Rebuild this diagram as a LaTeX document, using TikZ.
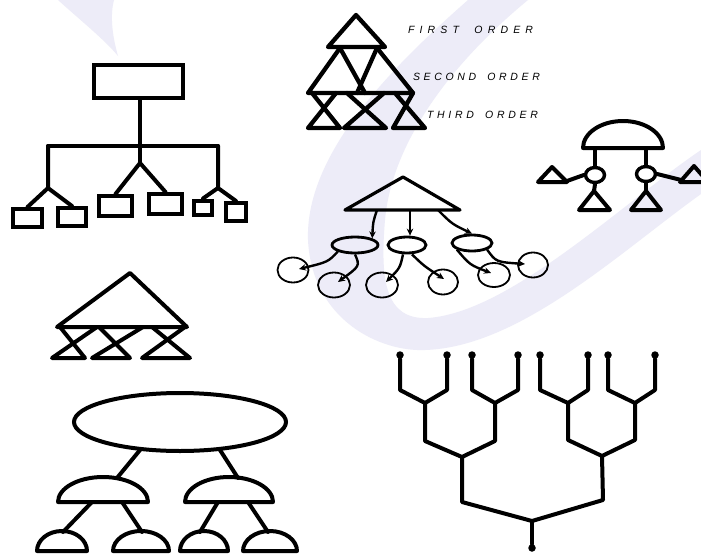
\documentclass[tikz,border=0pt]{standalone}
\usepackage{fontspec}
\setsansfont{Liberation Sans}
\usetikzlibrary{arrows.meta,shapes.geometric,calc}
\definecolor{wm}{RGB}{237,236,248}
\begin{document}
\begin{tikzpicture}[x=1pt,y=-1pt,
  ink/.style={draw=black,line width=4pt,line join=round,line cap=round},
  thick ink/.style={draw=black,line width=4.3pt,line join=round,line cap=round},
  box/.style={draw=black,line width=4pt,rectangle,inner sep=0pt,fill=white},
  oval/.style={draw=black,ellipse,inner sep=0pt},
  arr/.style={draw=black,line width=2.4pt,-{Stealth[length=7pt,width=6.5pt]}},
  lbl/.style={inner sep=0pt,font=\sffamily\itshape\fontsize{10.5}{10.5}\selectfont},
  dot/.style={circle,fill=black,inner sep=0pt,minimum size=7.5pt}]
\useasboundingbox (0,0) rectangle (701,554);
\fill[white] (0,0) rectangle (701,554);
% watermark
\fill[wm] (468,0) .. controls (400,60) and (305,150) .. (308,240) .. controls (312,320) and (380,352) .. (425,350) .. controls (520,347) and (620,252) .. (701,194) -- (701,150) .. controls (620,205) and (510,312) .. (428,318) .. controls (385,320) and (380,280) .. (385,220) .. controls (392,140) and (455,60) .. (528,0) -- cycle;
\fill[wm] (58,0) .. controls (80,20) and (105,40) .. (118,56) .. controls (112,35) and (110,15) .. (114,0) -- cycle;

% ---------- org chart ----------
\node[box,minimum width=89pt,minimum height=33pt] (r0) at (138.5,81.5) {};
\node[box,minimum width=29pt,minimum height=18pt] (b1) at (27.5,218) {};
\node[box,minimum width=28pt,minimum height=18pt] (b2) at (72,217) {};
\node[box,minimum width=33pt,minimum height=20pt] (b3) at (115.5,206) {};
\node[box,minimum width=33pt,minimum height=20pt] (b4) at (165.5,204) {};
\node[box,minimum width=18pt,minimum height=14pt] (b5) at (203,207.5) {};
\node[box,minimum width=20pt,minimum height=18pt] (b6) at (236,212) {};
\coordinate (bl) at (48,146);
\coordinate (br) at (218,146);
\coordinate (jl) at (48,188);
\coordinate (jr) at (218,188);
\coordinate (jm) at (140,163);
\draw[ink] (r0.south -| jm) -- (jm);
\draw[ink] (bl) -- (br);
\draw[ink] (bl) -- (jl) (jl) -- (b1.north) (jl) -- (b2.north);
\draw[ink] (jm) -- (b3.north) (jm) -- (b4.north);
\draw[ink] (br) -- (jr) (jr) -- (b5.north) (jr) -- (b6.north);

% ---------- triangle stack ----------
\draw[thick ink] (356,15) -- (328,47) -- (385,47) -- cycle;
\draw[thick ink] (340,48) -- (308,93) -- (413,93) -- (377,48);
\draw[thick ink] (340,48) -- (365,93);
\draw[thick ink] (377,48) -- (357,93);
\draw[thick ink] (312,93) -- (340,128) -- (308,128) -- (336,93);
\draw[thick ink] (347,93) -- (386,128) -- (344,128) -- (384,93);
\draw[thick ink] (395,93) -- (425,128) -- (393,128) -- (413,93);
\node[lbl] (o1) at (470.5,30) {\hbox to 125pt{F\hfil I\hfil R\hfil S\hfil T\hfil\hfil\hfil O\hfil R\hfil D\hfil E\hfil R}};
\node[lbl] (o2) at (476.5,77) {\hbox to 127pt{S\hfil E\hfil C\hfil O\hfil N\hfil D\hfil\hfil\hfil O\hfil R\hfil D\hfil E\hfil R}};
\node[lbl] (o3) at (482.5,115) {\hbox to 111pt{T\hfil H\hfil I\hfil R\hfil D\hfil\hfil\hfil O\hfil R\hfil D\hfil E\hfil R}};

% ---------- dome figure (right) ----------
\draw[ink] (583,148) arc[start angle=180,end angle=0,x radius=40pt,y radius=27pt] -- cycle;
\node[oval,line width=3.4pt,minimum width=19pt,minimum height=15pt] (cl) at (595,175) {};
\node[oval,line width=3.4pt,minimum width=19pt,minimum height=15pt] (cr) at (646,174) {};
\coordinate (dl) at (595,148);
\coordinate (dr) at (646,148);
\draw[ink] (dl) -- (cl.north);
\draw[ink] (dr) -- (cr.north);
\coordinate (tl) at (594,191);
\coordinate (tr) at (646,191);
\draw[ink] (cl.south) -- (tl);
\draw[ink] (cr.south) -- (tr);
\draw[ink] (tl) -- (579,210) -- (610,210) -- cycle;
\draw[ink] (tr) -- (631,210) -- (661,210) -- cycle;
\coordinate (sl) at (567,181);
\coordinate (sr) at (681,180);
\draw[ink] (cl.west) -- (sl);
\draw[ink] (cr.east) -- (sr);
\draw[ink] (552,167) -- (538,182) -- (567,182) -- cycle;
\draw[ink] (694,166) -- (680,182) -- (708,182) -- cycle;

% ---------- triangle with ellipses and circles ----------
\draw[ink,line width=3.2pt] (403,177) -- (345,210) -- (460,210) -- cycle;
\node[oval,line width=2.8pt,minimum width=46pt,minimum height=16pt] (e1) at (355,245) {};
\node[oval,line width=2.8pt,minimum width=38pt,minimum height=16pt] (e2) at (407,245) {};
\node[oval,line width=2.8pt,minimum width=40pt,minimum height=16pt] (e3) at (472,243) {};
\coordinate (a1) at (377,210);
\coordinate (a2) at (410,210);
\coordinate (a3) at (438,210);
\draw[arr] (a1) .. controls (373,222) .. (e1.north east);
\draw[arr] (a2) -- (a2 |- e2.north);
\draw[arr] (a3) .. controls (452,224) .. (e3.north);
\node[oval,line width=1.8pt,minimum width=31pt,minimum height=25pt] (c1) at (293,270) {};
\node[oval,line width=1.8pt,minimum width=32pt,minimum height=25pt] (c2) at (334,285) {};
\node[oval,line width=1.8pt,minimum width=32pt,minimum height=25pt] (c3) at (382,285) {};
\node[oval,line width=1.8pt,minimum width=30pt,minimum height=25pt] (c4) at (443,282) {};
\node[oval,line width=1.8pt,minimum width=32pt,minimum height=24pt] (c5) at (494,275) {};
\node[oval,line width=1.8pt,minimum width=30pt,minimum height=25pt] (c6) at (533,265) {};
\draw[arr] (e1.south west) .. controls (328,262) .. ($(c1.center)+(6,-1)$);
\draw[arr] (e1.south) .. controls (360,266) .. ($(c2.center)+(4,-3)$);
\draw[arr] ($(e2.south)+(-4,0)$) .. controls (400,268) .. ($(c3.center)+(4,-3)$);
\draw[arr] ($(e2.south)+(5,0)$) .. controls (424,266) .. ($(c4.center)+(1,-3)$);
\draw[arr] (e3.south west) .. controls (470,265) .. ($(c5.center)+(-3,-2)$);
\draw[arr] (e3.south east) .. controls (496,262) .. ($(c6.center)+(-8,-1)$);

% ---------- triangle with crossed lines (left middle) ----------
\draw[ink] (130,273) -- (57,327) -- (187,327) -- cycle;
\draw[ink] (60,327) -- (85,358) -- (52,358) -- (97,327);
\draw[ink] (99,327) -- (130,358) -- (92,358) -- (143,327);
\draw[ink] (152,327) -- (190,358) -- (142,358) -- (185,327);

% ---------- ellipse tree (bottom left) ----------
\node[oval,line width=4pt,minimum width=212pt,minimum height=58pt] (E) at (180,422) {};
\coordinate (eL) at (140,450);
\coordinate (eR) at (220,450);
\coordinate (hL) at (117,478);
\coordinate (hR) at (238,478);
\draw[ink] (eL) -- (hL);
\draw[ink] (eR) -- (hR);
\draw[ink] (58,502) arc[start angle=180,end angle=0,x radius=45pt,y radius=25pt] -- cycle;
\draw[ink] (185,502) arc[start angle=180,end angle=0,x radius=44pt,y radius=25pt] -- cycle;
\draw[ink] (92,502) -- (63,532);
\draw[ink] (122,502) -- (142,532);
\draw[ink] (218,502) -- (200,532);
\draw[ink] (248,502) -- (268,532);
\draw[ink] (37,551) arc[start angle=180,end angle=0,x radius=25pt,y radius=20pt] -- cycle;
\draw[ink] (113,551) arc[start angle=180,end angle=0,x radius=28pt,y radius=20pt] -- cycle;
\draw[ink] (180,551) arc[start angle=180,end angle=0,x radius=24pt,y radius=20pt] -- cycle;
\draw[ink] (243,551) arc[start angle=180,end angle=0,x radius=27pt,y radius=20pt] -- cycle;

% ---------- binary tree (bottom right) ----------
\foreach \i/\x in {1/400,2/447,3/472,4/518,5/540,6/588,7/608,8/655}{
  \node[dot] (L\i) at (\x,355) {};
}
\coordinate (J1) at (425,403);
\coordinate (J2) at (495,403);
\coordinate (J3) at (568,403);
\coordinate (J4) at (635,403);
\coordinate (K1) at (462,457);
\coordinate (K2) at (602,456);
\coordinate (R) at (532,521);
\node[dot] (Rt) at (532,548) {};
\draw[ink] (L1) -- (400,390) -- (J1) -- (447,390) -- (L2);
\draw[ink] (L3) -- (472,390) -- (J2) -- (518,390) -- (L4);
\draw[ink] (L5) -- (540,390) -- (J3) -- (588,390) -- (L6);
\draw[ink] (L7) -- (608,390) -- (J4) -- (655,390) -- (L8);
\draw[ink] (J1) -- (425,441) -- (K1) -- (495,441) -- (J2);
\draw[ink] (J3) -- (568,440) -- (K2) -- (635,440) -- (J4);
\draw[ink] (K1) -- (462,502) -- (R) -- (603,500) -- (K2);
\draw[ink] (R) -- (Rt);
\end{tikzpicture}
\end{document}
